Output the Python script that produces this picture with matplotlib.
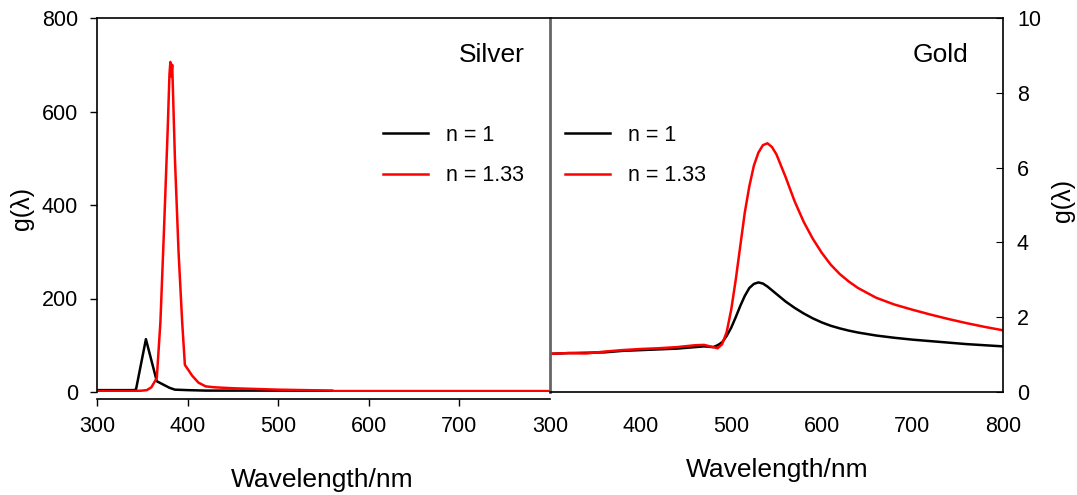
import matplotlib
matplotlib.use("Agg")
import matplotlib.pyplot as plt

plt.rcParams['font.family'] = ['Liberation Sans', 'DejaVu Sans']

# Silver data
ag_wl_n1 = [300, 320, 340, 343, 354, 366, 380, 386, 400, 420, 450, 500, 560]
ag_g_n1 = [4, 4, 4, 5, 113, 23, 9, 5, 4, 3, 3, 3, 2]
ag_wl_n133 = [300, 340, 350, 355, 360, 366, 370, 374, 378, 380, 381, 382, 383, 386,
              390, 394, 397, 405, 412, 420, 430, 450, 500, 560, 561, 800]
ag_g_n133 = [2, 2, 3, 4, 10, 30, 150, 350, 560, 680, 706, 675, 700, 500,
             300, 150, 58, 35, 20, 12, 10, 8, 5, 3, 2, 2]

# Gold data
au_wl = [300, 320, 340, 360, 380, 400, 420, 440, 460, 470, 480, 485, 490, 495, 500,
         505, 510, 515, 520, 525, 530, 535, 540, 545, 550, 560, 570, 580, 590, 600,
         610, 620, 630, 640, 660, 680, 700, 720, 740, 760, 780, 800]
au_g_n1 = [1.02, 1.04, 1.05, 1.06, 1.10, 1.12, 1.14, 1.16, 1.20, 1.22, 1.20, 1.25,
           1.33, 1.50, 1.72, 2.00, 2.30, 2.57, 2.78, 2.89, 2.93, 2.90, 2.82, 2.72,
           2.62, 2.42, 2.25, 2.10, 1.97, 1.86, 1.77, 1.70, 1.64, 1.59, 1.51, 1.45,
           1.40, 1.36, 1.32, 1.28, 1.25, 1.22]
au_g_n133 = [1.02, 1.04, 1.03, 1.08, 1.12, 1.15, 1.17, 1.20, 1.25, 1.26, 1.20, 1.17,
             1.28, 1.60, 2.20, 3.00, 3.90, 4.80, 5.50, 6.05, 6.40, 6.60, 6.65, 6.55,
             6.35, 5.75, 5.10, 4.55, 4.10, 3.72, 3.40, 3.15, 2.95, 2.78, 2.52, 2.34,
             2.20, 2.07, 1.95, 1.84, 1.74, 1.65]

xticks = [300, 400, 500, 600, 700]
xticks_r = [300, 400, 500, 600, 700, 800]
yticks_l = [0, 200, 400, 600, 800]
yticks_r = [0, 2, 4, 6, 8, 10]

W, H = 1077, 495
fig = plt.figure(figsize=(W / 100, H / 100), dpi=100)

def rect(x0, x1, ytop, ybot):
    return [x0 / W, 1 - ybot / H, (x1 - x0) / W, (ybot - ytop) / H]

fs_tick = 15.5
fs_leg = 15.5
fs_lab = 19
fs_ylab = 18
fs_name = 19

axL = fig.add_axes(rect(97, 550, 18, 392))
axR = fig.add_axes(rect(550, 1003, 18, 392))

leg_kw = dict(loc='upper left', frameon=False, fontsize=fs_leg, handlelength=2.1,
              handletextpad=0.85, labelspacing=0.9, borderaxespad=0)

# Left panel
axL.plot(ag_wl_n1, ag_g_n1, color='black', lw=1.8, label='n = 1')
axL.plot(ag_wl_n133, ag_g_n133, color='#ff0000', lw=1.8, label='n = 1.33')
axL.set_xlim(300, 800)
axL.set_ylim(0, 800)
axL.set_xticks(xticks)
axL.set_yticks(yticks_l)
axL.spines['right'].set_visible(False)
axL.spines['bottom'].set_position(('outward', 5))
axL.tick_params(direction='out', length=5, labelsize=fs_tick, width=1)
axL.tick_params(axis='x', pad=7.5)
axL.tick_params(axis='y', pad=8.5)
axL.set_xlabel('Wavelength/nm', fontsize=fs_lab)
axL.xaxis.label.set_va('center')
axL.xaxis.set_label_coords(0.497, (392 - 480) / 374)
axL.set_ylabel('g(λ)', fontsize=fs_ylab)
axL.yaxis.label.set_va('center')
axL.yaxis.set_label_coords((22 - 97) / 453, (392 - 209) / 374)
axL.text(0.945, 0.90, 'Silver', transform=axL.transAxes, ha='right', va='center',
         fontsize=fs_name)
axL.legend(bbox_to_anchor=(0.612, 0.737), **leg_kw)
for s in axL.spines.values():
    s.set_linewidth(1.2)

# Right panel
axR.plot(au_wl, au_g_n1, color='black', lw=1.8, label='n = 1')
axR.plot(au_wl, au_g_n133, color='#ff0000', lw=1.8, label='n = 1.33')
axR.set_xlim(300, 800)
axR.set_ylim(0, 10)
axR.set_xticks(xticks_r)
axR.set_yticks(yticks_r)
axR.yaxis.tick_right()
axR.yaxis.set_label_position('right')
axR.tick_params(axis='y', direction='in', length=5, labelsize=fs_tick, pad=10)
axR.tick_params(axis='x', direction='in', length=0, labelsize=fs_tick, pad=17.5)
axR.set_xlabel('Wavelength/nm', fontsize=fs_lab)
axR.xaxis.label.set_va('center')
axR.xaxis.set_label_coords(0.501, (392 - 470) / 374)
axR.set_ylabel('g(λ)', fontsize=fs_ylab)
axR.yaxis.label.set_va('center')
axR.yaxis.set_label_coords((1063 - 550) / 453, (392 - 200) / 374)
axR.text(0.923, 0.90, 'Gold', transform=axR.transAxes, ha='right', va='center',
         fontsize=fs_name)
axR.legend(bbox_to_anchor=(0.014, 0.737), **leg_kw)
for s in axR.spines.values():
    s.set_linewidth(1.2)
axR.spines['left'].set_color('#666666')
axR.spines['left'].set_linewidth(2)

fig.savefig('out.png', dpi=100)
